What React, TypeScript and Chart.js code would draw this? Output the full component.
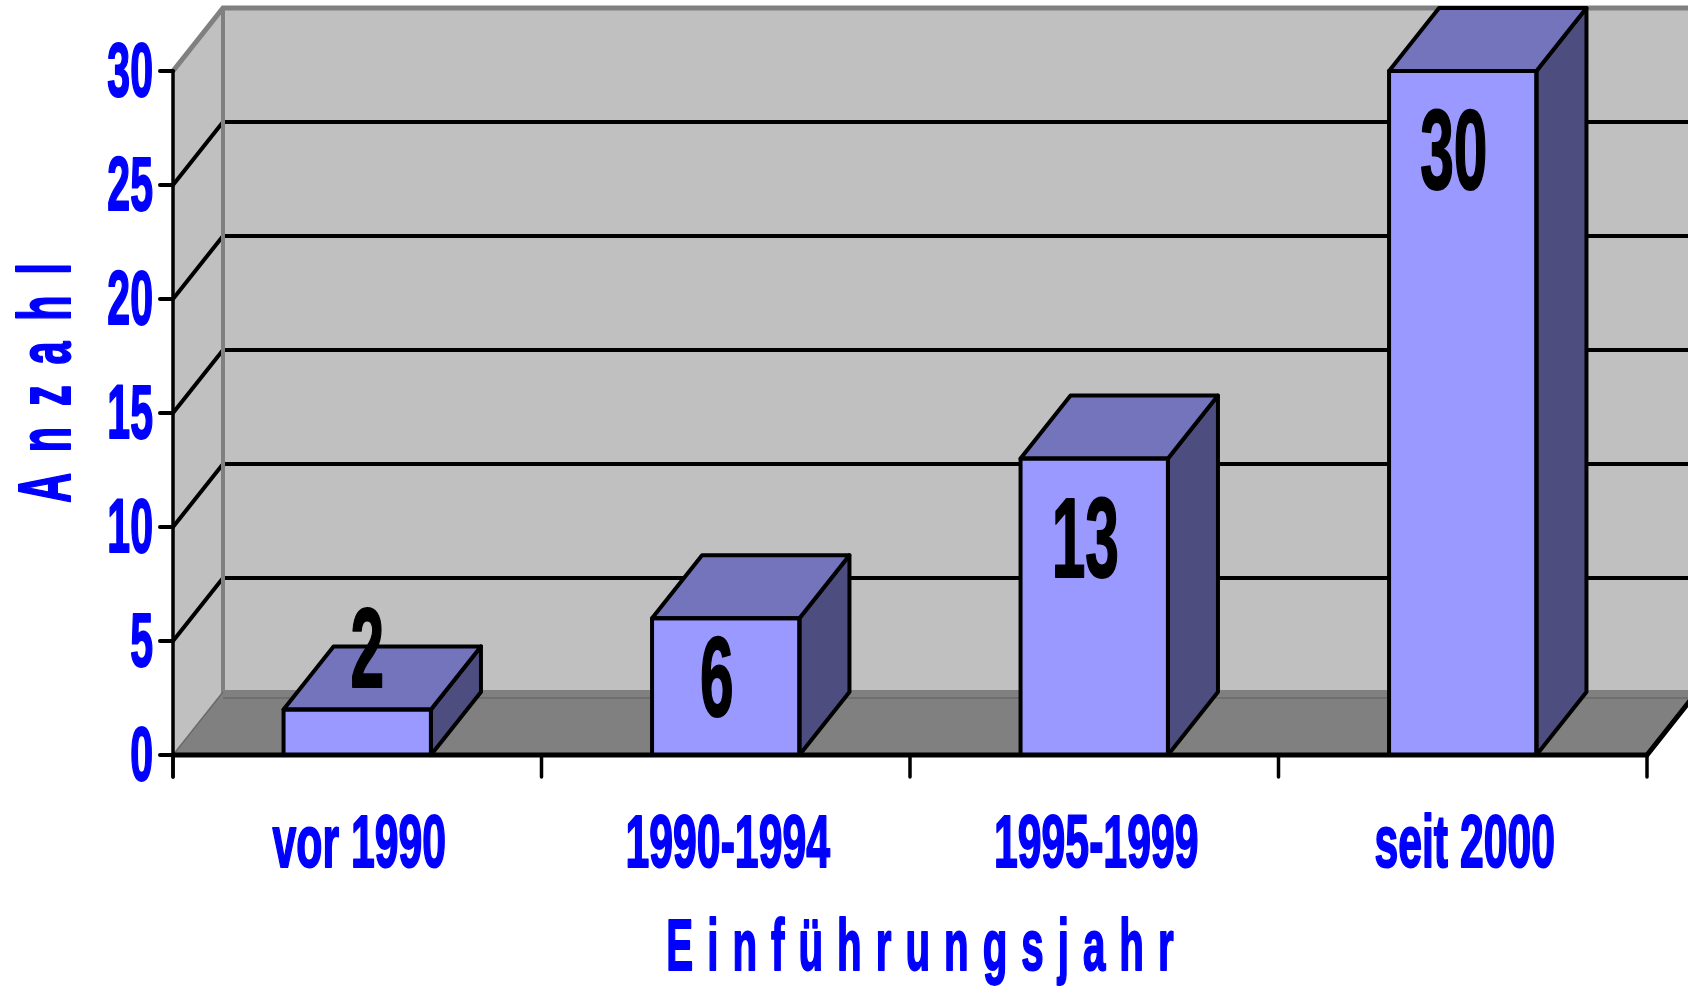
import { useEffect, useRef } from "react";
import { Chart, registerables } from "chart.js";

Chart.register(...registerables);

// ---- data ----
const categories = ["vor 1990", "1990-1994", "1995-1999", "seit 2000"];
const counts = [2, 6, 13, 30];
const yTicks = [0, 5, 10, 15, 20, 25, 30];
const yAxisTitle = "Anzahl";
const xAxisTitle = "Einführungsjahr";

// ---- style ----
const DX = 50;
const DY = -63;
const FONT = '"Liberation Sans", Arial, sans-serif';
const BLUE = "#0000FF";
const WALL = "#C0C0C0";
const FLOOR = "#808080";
const EDGE = "#808080";
const FRONT = "#9999FF";
const TOP = "#7474BC";
const SIDE = "#4D4D7F";

function drawText(
  ctx: CanvasRenderingContext2D,
  text: string,
  x: number,
  y: number,
  size: number,
  sx: number,
  color: string,
  align: CanvasTextAlign,
  spacing = 0,
  rotate = 0
) {
  ctx.save();
  ctx.translate(x, y);
  if (rotate) ctx.rotate(rotate);
  ctx.scale(sx, 1);
  ctx.font = `bold ${size}px ${FONT}`;
  ctx.fillStyle = color;
  ctx.strokeStyle = color;
  ctx.lineWidth = 2;
  ctx.lineJoin = "round";
  ctx.textAlign = align;
  ctx.textBaseline = "alphabetic";
  (ctx as any).letterSpacing = spacing + "px";
  let ox = 0;
  if (spacing && align === "center") ox = spacing / 2;
  ctx.fillText(text, ox, 0);
  ctx.strokeText(text, ox, 0);
  ctx.restore();
}

function poly(ctx: CanvasRenderingContext2D, pts: number[][]) {
  ctx.beginPath();
  ctx.moveTo(pts[0][0], pts[0][1]);
  for (let i = 1; i < pts.length; i++) ctx.lineTo(pts[i][0], pts[i][1]);
  ctx.closePath();
}

const threeD = {
  id: "threeD",
  beforeDatasetsDraw(chart: any) {
    const { ctx, chartArea: a, scales } = chart;
    const y = scales.y;
    const left = a.left;
    const right = a.right;
    const top = y.getPixelForValue(yTicks[yTicks.length - 1]);
    const bottom = y.getPixelForValue(0);
    ctx.save();
    // back wall
    ctx.fillStyle = WALL;
    ctx.fillRect(left + DX, top + DY, right - left + 10, bottom - top);
    // side wall
    poly(ctx, [
      [left, top],
      [left + DX, top + DY],
      [left + DX, bottom + DY],
      [left, bottom],
    ]);
    ctx.fill();
    // floor
    ctx.fillStyle = FLOOR;
    poly(ctx, [
      [left, bottom],
      [right, bottom],
      [right + DX, bottom + DY],
      [left + DX, bottom + DY],
    ]);
    ctx.fill();
    // gridlines
    ctx.strokeStyle = "#000";
    ctx.lineWidth = 4;
    ctx.lineJoin = "miter";
    for (const v of yTicks) {
      if (v === 0 || v === yTicks[yTicks.length - 1]) continue;
      const py = y.getPixelForValue(v);
      ctx.beginPath();
      ctx.moveTo(left, py);
      ctx.lineTo(left + DX, py + DY);
      ctx.lineTo(right + DX + 10, py + DY);
      ctx.stroke();
    }
    // wall edges
    ctx.strokeStyle = EDGE;
    ctx.lineWidth = 5;
    ctx.beginPath();
    ctx.moveTo(left, top);
    ctx.lineTo(left + DX, top + DY);
    ctx.lineTo(right + DX + 10, top + DY);
    ctx.stroke();
    ctx.lineWidth = 4;
    ctx.beginPath();
    ctx.moveTo(left + DX, top + DY);
    ctx.lineTo(left + DX, bottom + DY);
    ctx.lineTo(right + DX + 10, bottom + DY);
    ctx.stroke();
    ctx.strokeStyle = "#6a6a6a";
    ctx.lineWidth = 1.5;
    ctx.beginPath();
    ctx.moveTo(left, bottom);
    ctx.lineTo(left + DX, bottom + DY);
    ctx.moveTo(left + DX, bottom + DY + 6);
    ctx.lineTo(right + DX + 10, bottom + DY + 6);
    ctx.stroke();
    ctx.restore();
  },
  afterDatasetsDraw(chart: any) {
    const { ctx, chartArea: a, scales } = chart;
    const x = scales.x;
    const y = scales.y;
    const left = a.left;
    const right = a.right;
    const top = y.getPixelForValue(yTicks[yTicks.length - 1]);
    const bottom = y.getPixelForValue(0);
    ctx.save();
    ctx.strokeStyle = "#000";
    ctx.lineWidth = 3.5;
    ctx.lineCap = "round";
    // y axis
    ctx.beginPath();
    ctx.moveTo(left, top);
    ctx.lineTo(left, bottom + 22);
    ctx.stroke();
    ctx.lineWidth = 4;
    for (const v of yTicks) {
      const py = y.getPixelForValue(v);
      ctx.beginPath();
      ctx.moveTo(left - 13, py);
      ctx.lineTo(left, py);
      ctx.stroke();
    }
    // x axis
    ctx.lineWidth = 5;
    ctx.beginPath();
    ctx.moveTo(left, bottom);
    ctx.lineTo(right, bottom);
    ctx.lineTo(right + DX, bottom + DY);
    ctx.stroke();
    ctx.lineWidth = 3.5;
    const step = x.getPixelForValue(1) - x.getPixelForValue(0);
    for (let i = 0; i <= categories.length; i++) {
      const bx = x.getPixelForValue(0) - step / 2 + i * step;
      ctx.beginPath();
      ctx.moveTo(bx, bottom);
      ctx.lineTo(bx, bottom + 22);
      ctx.stroke();
    }
    // 3D faces of bars
    const meta = chart.getDatasetMeta(0);
    ctx.lineJoin = "round";
    ctx.lineWidth = 4;
    for (const el of meta.data) {
      const x0 = el.x - el.width / 2;
      const x1 = el.x + el.width / 2;
      const yt = el.y;
      const yb = el.base;
      ctx.fillStyle = SIDE;
      poly(ctx, [
        [x1, yt],
        [x1 + DX, yt + DY],
        [x1 + DX, yb + DY],
        [x1, yb],
      ]);
      ctx.fill();
      ctx.stroke();
      ctx.fillStyle = TOP;
      poly(ctx, [
        [x0, yt],
        [x1, yt],
        [x1 + DX, yt + DY],
        [x0 + DX, yt + DY],
      ]);
      ctx.fill();
      ctx.stroke();
      ctx.strokeRect(x0, yt, x1 - x0, yb - yt);
    }
    ctx.restore();
  },
  afterDraw(chart: any) {
    const { ctx, chartArea: a, scales } = chart;
    const x = scales.x;
    const y = scales.y;
    const left = a.left;
    const right = a.right;
    const bottom = y.getPixelForValue(0);
    // y tick labels
    for (const v of yTicks) {
      const py = y.getPixelForValue(v);
      drawText(ctx, String(v), left - 20, py + 25, 76, 0.54, BLUE, "right");
    }
    // category labels
    categories.forEach((c, i) => {
      drawText(ctx, c, x.getPixelForValue(i) + 2, bottom + 112, 75, 0.57, BLUE, "center");
    });
    // axis titles
    drawText(ctx, xAxisTitle, (left + right) / 2 + 10, bottom + 215, 72, 0.56, BLUE, "center", 25);
    drawText(ctx, yAxisTitle, 70, 383, 75, 0.55, BLUE, "center", 38, -Math.PI / 2);
    // data labels
    const meta = chart.getDatasetMeta(0);
    meta.data.forEach((el: any, i: number) => {
      const yt = el.y;
      const yb = el.base;
      const h = yb - yt;
      if (h < 80) {
        drawText(ctx, String(counts[i]), el.x + 10, yt - 22, 114, 0.53, "#000", "center");
      } else {
        drawText(ctx, String(counts[i]), el.x - 9, Math.min(yt + 118, yb - 39), 114, 0.53, "#000", "center");
      }
    });
  },
};

export default function App() {
  const ref = useRef<HTMLCanvasElement>(null);
  useEffect(() => {
    const chart = new Chart(ref.current as HTMLCanvasElement, {
      type: "bar",
      data: {
        labels: categories,
        datasets: [
          {
            data: counts,
            backgroundColor: FRONT,
            borderColor: "#000",
            borderWidth: 0,
            borderSkipped: false,
            barPercentage: 0.4,
            categoryPercentage: 1,
          },
        ],
      },
      options: {
        responsive: false,
        animation: false,
        devicePixelRatio: 1,
        layout: { padding: { left: 173, right: 41, top: 71, bottom: 232 } },
        plugins: {
          legend: { display: false },
          tooltip: { enabled: false },
          title: { display: false },
        },
        scales: {
          x: { display: false, offset: true },
          y: { display: false, min: 0, max: 30 },
        },
      },
      plugins: [threeD],
    } as any);
    return () => chart.destroy();
  }, []);
  return (
    <div
      style={{
        position: "absolute",
        left: 0,
        top: 0,
        width: 1688,
        height: 987,
        background: "#fff",
        overflow: "hidden",
      }}
    >
      <canvas ref={ref} width={1688} height={987} style={{ display: "block" }} />
    </div>
  );
}
